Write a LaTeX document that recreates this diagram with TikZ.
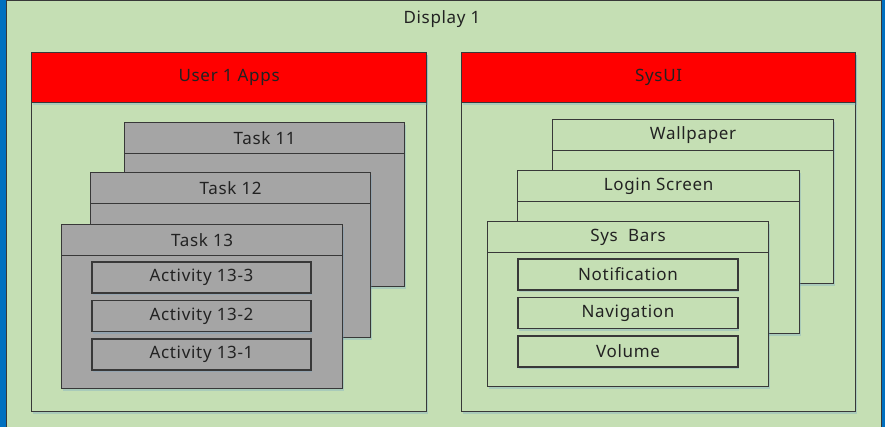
\documentclass[tikz,border=0pt]{standalone}
\usepackage{fontspec}
\setmainfont{Noto Sans}[LetterSpace=4]
\usetikzlibrary{shadows}
\definecolor{bg}{HTML}{C5DFB4}
\definecolor{gr}{HTML}{A5A5A5}
\definecolor{edge}{HTML}{383838}
\definecolor{blu}{HTML}{0070C0}
\definecolor{txt}{HTML}{222222}
\definecolor{shd}{HTML}{6A9FC8}
\newcommand{\mywin}[7]{%
  \node[panelbox, softshadow, fill=#6, minimum width={#4-#2}, minimum height={#5-#3}] (#1) at (#2,#3) {};
  \node[panelbox, fill=#6, minimum width={#4-#2}, minimum height=31, text=txt] (#1h) at (#2,#3) {#7};
}
\begin{document}
\begin{tikzpicture}[x=1pt,y=-1pt,
  font=\fontsize{17}{20}\selectfont,
  softshadow/.style={drop shadow={shadow xshift=1pt, shadow yshift=-2pt, opacity=0.3, fill=shd}},
  panelbox/.style={draw=edge, line width=1.2pt, inner sep=0pt, anchor=north west, align=center},
  itembox/.style={draw=edge, line width=1.2pt, inner sep=0pt, text=txt, align=center, softshadow}]
\useasboundingbox (0,0) rectangle (885,427);
\fill[blu] (0,0) rectangle (885,427);
\node[draw=edge, line width=1pt, fill=bg, anchor=north west, inner sep=0pt,
      minimum width=875.5, minimum height=440] (display) at (5.5,0.5) {};
\node[text=txt] (displaylabel) at (442,19) {Display 1};
% left panel
\node[panelbox, softshadow, fill=bg, minimum width={426-31}, minimum height={411-52}] (user) at (31,52) {};
\node[panelbox, softshadow, fill=red, minimum width={426-31}, minimum height={102-52}, text=txt] (userh) at (31,52) {User 1 Apps};
\mywin{t11}{124}{122}{404}{286}{gr}{Task 11}
\mywin{t12}{90}{172}{370}{337}{gr}{Task 12}
\mywin{t13}{61}{224}{342}{388}{gr}{Task 13}
\node[itembox, fill=gr, minimum width=219, minimum height=31] (a3) at (201.5,277.5) {Activity 13-3};
\node[itembox, fill=gr, minimum width=219, minimum height=31] (a2) at (201.5,316) {Activity 13-2};
\node[itembox, fill=gr, minimum width=219, minimum height=31] (a1) at (201.5,354.5) {Activity 13-1};
% right panel
\node[panelbox, softshadow, fill=bg, minimum width={855-461}, minimum height={411-52}] (sys) at (461,52) {};
\node[panelbox, softshadow, fill=red, minimum width={855-461}, minimum height={102-52}, text=txt] (sysh) at (461,52) {SysUI};
\mywin{wp}{552}{119}{833}{283}{bg}{Wallpaper}
\mywin{ls}{517}{170}{799}{333}{bg}{Login Screen}
\mywin{sb}{487}{221}{768}{386}{bg}{Sys\ \ Bars}
\node[itembox, fill=bg, minimum width=220, minimum height=31] (nt) at (628,274.5) {Notification};
\node[itembox, fill=bg, minimum width=220, minimum height=31] (nv) at (628,313) {Navigation};
\node[itembox, fill=bg, minimum width=220, minimum height=31] (vo) at (628,351.5) {Volume};
\end{tikzpicture}
\end{document}
